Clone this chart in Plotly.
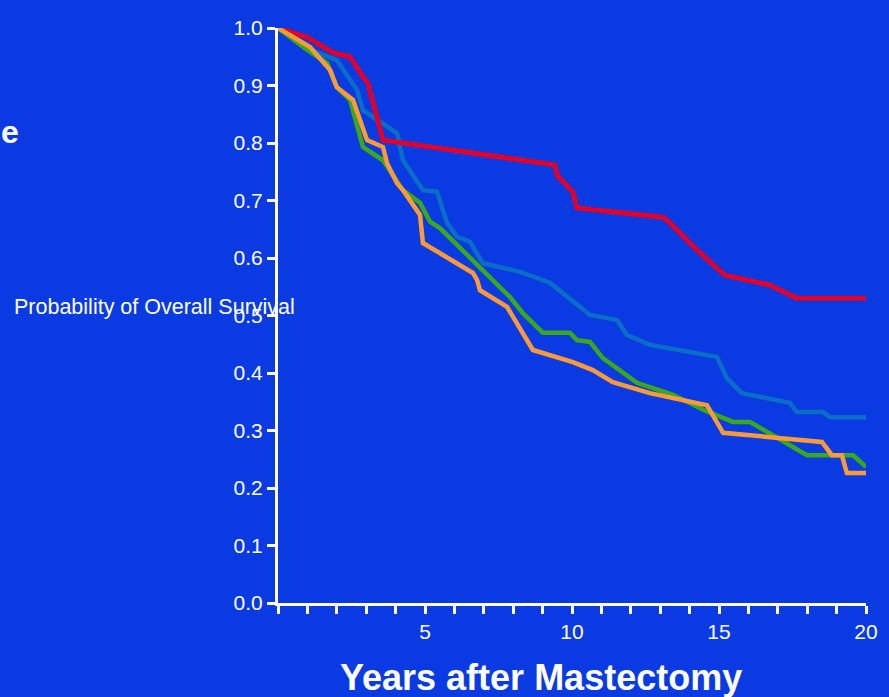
import plotly.graph_objects as go

# ---- data ----
red_x = [0, 0.99, 1.87, 2.45, 2.89, 3.06, 3.57, 5.17, 9.42, 9.49, 10.03, 10.17, 13.1, 13.33, 14.25, 15.2, 16.73, 17.65, 20]
red_y = [1.0, 0.984, 0.957, 0.950, 0.915, 0.904, 0.805, 0.793, 0.762, 0.744, 0.715, 0.687, 0.671, 0.661, 0.614, 0.570, 0.553, 0.530, 0.530]

lblue_x = [0, 1.09, 2.0, 2.69, 2.89, 4.05, 4.25, 4.93, 5.41, 5.75, 6.09, 6.53, 6.97, 8.23, 9.25, 10.61, 11.53, 11.87, 12.65, 14.93, 15.27, 15.78, 17.41, 17.65, 18.54, 18.78, 20]
lblue_y = [1.0, 0.962, 0.944, 0.892, 0.857, 0.817, 0.770, 0.718, 0.715, 0.661, 0.637, 0.628, 0.591, 0.576, 0.557, 0.501, 0.492, 0.466, 0.449, 0.428, 0.391, 0.365, 0.348, 0.332, 0.332, 0.323, 0.323]

green_x = [0, 0.99, 1.67, 2.0, 2.45, 2.89, 3.57, 4.25, 4.83, 5.17, 5.51, 6.53, 7.89, 8.33, 9.01, 9.93, 10.17, 10.61, 11.05, 12.21, 13.44, 14.46, 15.48, 16.05, 17.99, 19.56, 20]
green_y = [1.0, 0.962, 0.939, 0.897, 0.875, 0.793, 0.770, 0.718, 0.696, 0.663, 0.652, 0.600, 0.532, 0.504, 0.470, 0.470, 0.457, 0.454, 0.426, 0.383, 0.362, 0.336, 0.315, 0.315, 0.257, 0.257, 0.237]

orange_x = [0, 1.09, 1.77, 2.0, 2.55, 3.03, 3.57, 3.71, 4.05, 4.25, 4.83, 4.93, 6.63, 6.77, 6.87, 7.79, 8.67, 10.03, 10.71, 11.39, 12.65, 14.59, 15.14, 18.5, 18.84, 19.18, 19.35, 20]
orange_y = [1.0, 0.967, 0.927, 0.897, 0.875, 0.805, 0.793, 0.765, 0.730, 0.718, 0.675, 0.626, 0.574, 0.562, 0.544, 0.515, 0.440, 0.419, 0.405, 0.384, 0.365, 0.344, 0.296, 0.280, 0.257, 0.257, 0.226, 0.226]

x_tick_vals = list(range(0, 21))
x_tick_text = ["5" if v == 5 else "10" if v == 10 else "15" if v == 15 else "20" if v == 20 else "" for v in x_tick_vals]
y_tick_vals = [0.0, 0.1, 0.2, 0.3, 0.4, 0.5, 0.6, 0.7, 0.8, 0.9, 1.0]
y_tick_text = ["0.0", "0.1", "0.2", "0.3", "0.4", "0.5", "0.6", "0.7", "0.8", "0.9", "1.0"]

BG = "#0a3be2"
WHITE = "#ffffff"
FONT = "Liberation Sans, Arial, sans-serif"

fig = go.Figure()
for xs, ys, col, w in [
    (lblue_x, lblue_y, "#0a6ec8", 4.5),
    (red_x, red_y, "#e0002c", 5),
    (green_x, green_y, "#3aa81a", 4.5),
    (orange_x, orange_y, "#ff9a38", 4.5),
]:
    fig.add_trace(go.Scatter(x=xs, y=ys, mode="lines",
                             line=dict(color=col, width=w),
                             cliponaxis=False, showlegend=False, hoverinfo="skip"))

fig.update_layout(
    width=889, height=697,
    paper_bgcolor=BG, plot_bgcolor=BG,
    margin=dict(l=278, r=23, t=28, b=94),
    font=dict(family=FONT, color=WHITE, size=21),
    showlegend=False,
)
fig.update_xaxes(
    range=[0, 20], showgrid=False, zeroline=False,
    showline=True, linecolor=WHITE, linewidth=3,
    ticks="outside", ticklen=8, tickwidth=3, tickcolor=WHITE,
    tickvals=x_tick_vals, ticktext=x_tick_text,
    tickfont=dict(size=21, color=WHITE, family=FONT),
)
fig.update_yaxes(
    range=[0, 1], showgrid=False, zeroline=False,
    showline=True, linecolor=WHITE, linewidth=3,
    ticks="outside", ticklen=8, tickwidth=3, tickcolor=WHITE,
    tickvals=y_tick_vals, ticktext=y_tick_text,
    tickfont=dict(size=21, color=WHITE, family=FONT),
)

fig.add_annotation(text="Probability of Overall Survival", xref="paper", yref="paper",
                   x=-0.452, y=0.515, xanchor="left", yanchor="middle", showarrow=False,
                   font=dict(size=21.5, color=WHITE, family=FONT))
fig.add_annotation(text="<b>Years after Mastectomy</b>", xref="paper", yref="paper",
                   x=0.447, y=-0.130, xanchor="center", yanchor="middle", showarrow=False,
                   font=dict(size=36, color=WHITE, family=FONT))
fig.add_annotation(text="<b>e</b>", xref="paper", yref="paper",
                   x=-0.475, y=0.82, xanchor="left", yanchor="middle", showarrow=False,
                   font=dict(size=32, color=WHITE, family=FONT))

fig.write_html(
    "out.html",
    config={"displayModeBar": False},
    post_script="document.body.style.margin='0';document.body.style.padding='0';"
                "document.body.style.background='" + BG + "';"
                "document.documentElement.style.overflow='hidden';",
)
